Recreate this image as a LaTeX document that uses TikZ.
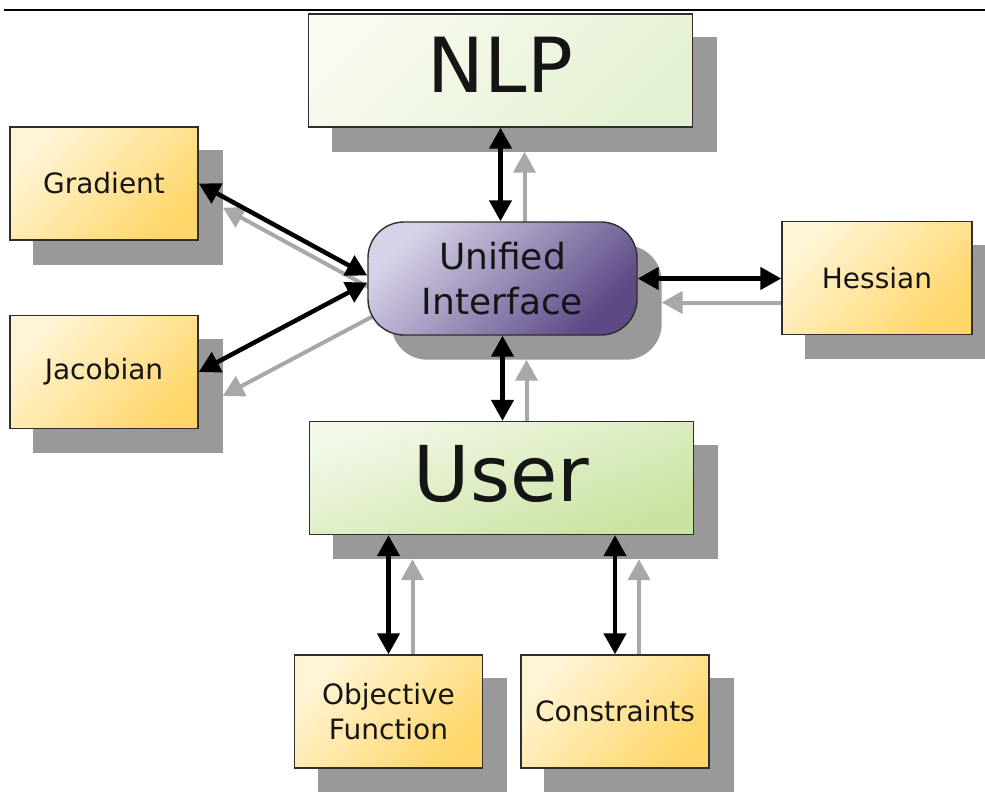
\documentclass[tikz,border=0pt]{standalone}
\usepackage{fontspec}
\setmainfont{DejaVu Sans}
\usetikzlibrary{arrows.meta}
\pgfdeclarelayer{canvas}
\pgfdeclarelayer{background}
\pgfsetlayers{canvas,background,main}

\definecolor{shadowgray}{HTML}{999999}
\definecolor{arrowshadow}{HTML}{A8A8A8}
\definecolor{boxborder}{HTML}{2E2E2E}
\definecolor{inkcol}{HTML}{151515}
\definecolor{nlpA}{HTML}{F8FBF0}
\definecolor{nlpM}{HTML}{EEF6E2}
\definecolor{nlpB}{HTML}{E4F1D2}
\definecolor{userA}{HTML}{F2F8E8}
\definecolor{userM}{HTML}{DDEEC4}
\definecolor{userB}{HTML}{C9E3A0}
\definecolor{yelA}{HTML}{FFF5D6}
\definecolor{yelM}{HTML}{FFE28C}
\definecolor{yelB}{HTML}{FFD66A}
\definecolor{uiA}{HTML}{D8D2E8}
\definecolor{uiM}{HTML}{8C7AB1}
\definecolor{uiB}{HTML}{5C4986}

\tikzset{
  box/.style={draw=boxborder, line width=1.4pt, inner sep=0pt, text=inkcol,
    align=center},
  greenbox/.style={box, minimum width=384pt, minimum height=113pt},
  yellowbox/.style={box, minimum width=188pt, minimum height=113pt,
    left color=yelA, middle color=yelM, right color=yelB, shading angle=45,
    font=\fontsize{28}{35}\selectfont},
  uibox/.style={box, minimum width=269pt, minimum height=113pt,
    rounded corners=36pt, left color=uiA, middle color=uiM, right color=uiB,
    shading angle=45, font=\fontsize{36}{45}\selectfont},
  tipshape/.tip={Triangle[length=21pt,width=22pt]},
  biarrow/.style={line width=4.5pt, black, tipshape-tipshape},
  sharrow/.style={line width=4pt, arrowshadow, tipshape-tipshape},
  shadowfill/.style={fill=shadowgray},
}

\begin{document}
\begin{tikzpicture}[x=1pt,y=-1pt]
  % page area and white canvas
  \useasboundingbox (0,0) rectangle (985,792);
  \begin{pgfonlayer}{canvas}
    \fill[white] (0,0) rectangle (985,792);
  \end{pgfonlayer}
  \coordinate (ruleL) at (4,10);
  \coordinate (ruleR) at (985,10);
  \draw[line width=1.5pt] (ruleL) -- (ruleR);

  % boxes
  \node[greenbox, left color=nlpA, middle color=nlpM, right color=nlpB,
        shading angle=45, font=\fontsize{76}{90}\selectfont, text depth=12pt]
        (nlp) at (500.5,70.5) {NLP};
  \node[greenbox, left color=userA, middle color=userM, right color=userB,
        shading angle=20, font=\fontsize{77}{90}\selectfont, text depth=10pt]
        (user) at (501.5,478) {User};
  \node[uibox] (ui) at (502.5,278.5) {Unified\\Interface};
  \node[yellowbox] (grad) at (104,183.5) {Gradient};
  \node[yellowbox] (jac) at (104,372) {Jacobian};
  \node[yellowbox, minimum width=190pt] (hess) at (877,278) {Hessian};
  \node[yellowbox] (obj) at (388.5,711.5) {Objective\\Function};
  \node[yellowbox] (cons) at (615,711.5) {Constraints};

  % connector end points
  \coordinate (gradUI) at ([yshift=3pt]ui.west);
  \coordinate (jacUI) at ([yshift=-4pt]ui.west);

  % drop shadows of boxes and connectors
  \begin{pgfonlayer}{background}
    \foreach \n in {nlp,user,grad,jac,hess,obj,cons}
      \fill[shadowfill] ([shift={(24,24)}]\n.north west)
                        rectangle ([shift={(24,24)}]\n.south east);
    \fill[shadowfill, rounded corners=36pt]
      ([shift={(24,24)}]ui.north west) rectangle ([shift={(24,24)}]ui.south east);

    \draw[sharrow] ([shift={(24,24)}]nlp.south) -- ([shift={(24,24)}]nlp.south |- ui.north);
    \draw[sharrow] ([shift={(24,24)}]ui.south) -- ([shift={(24,24)}]ui.south |- user.north);
    \draw[sharrow] ([shift={(24,24)}]grad.east) -- ([shift={(24,24)}]gradUI);
    \draw[sharrow] ([shift={(24,24)}]jacUI) -- ([shift={(24,24)}]jac.east);
    \draw[sharrow] ([shift={(24,24)}]ui.east) -- ([shift={(24,24)}]ui.east -| hess.west);
    \draw[sharrow] ([shift={(24,24)}]obj.north |- user.south) -- ([shift={(24,24)}]obj.north);
    \draw[sharrow] ([shift={(24,24)}]cons.north |- user.south) -- ([shift={(24,24)}]cons.north);
  \end{pgfonlayer}

  % connectors
  \draw[biarrow] (nlp.south) -- (nlp.south |- ui.north);
  \draw[biarrow] (ui.south) -- (ui.south |- user.north);
  \draw[biarrow] (grad.east) -- (gradUI);
  \draw[biarrow] (jacUI) -- (jac.east);
  \draw[biarrow] (ui.east) -- (ui.east -| hess.west);
  \draw[biarrow] (obj.north |- user.south) -- (obj.north);
  \draw[biarrow] (cons.north |- user.south) -- (cons.north);
\end{tikzpicture}
\end{document}
